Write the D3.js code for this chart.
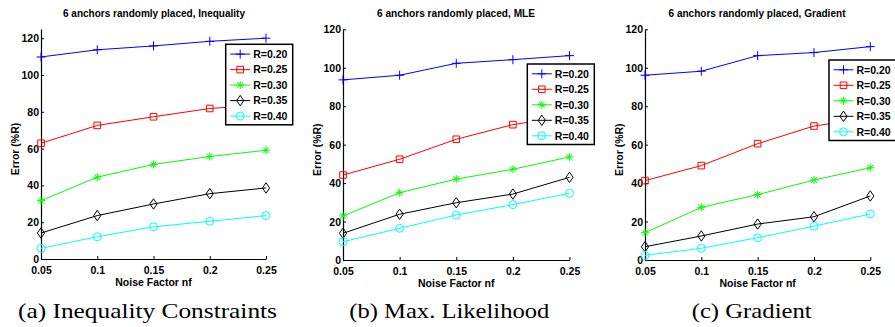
<!DOCTYPE html>
<html>
<head>
<meta charset="utf-8">
<script src="https://cdn.jsdelivr.net/npm/d3@7"></script>
<style>
  html, body { margin: 0; padding: 0; background: #fff; }
  svg { display: block; }
  text { font-family: "Liberation Sans", Arial, sans-serif; font-weight: bold; }
  .caption { font-family: "Liberation Serif", "DejaVu Serif", serif; font-weight: normal; }
</style>
</head>
<body>
<svg id="chart" width="895" height="327"></svg>
<script>
// data
const noiseFactors = [0.05, 0.1, 0.15, 0.2, 0.25];
const xTickLabels = ['0.05', '0.1', '0.15', '0.2', '0.25'];
const yTicks = [0, 20, 40, 60, 80, 100, 120];
const seriesNames = ['R=0.20', 'R=0.25', 'R=0.30', 'R=0.35', 'R=0.40'];

const inequalityErr = [
    [109.8, 113.7, 115.8, 118.3, 120.0],
    [62.9, 72.6, 77.3, 81.8, 84.0],
    [31.7, 44.5, 51.4, 55.7, 59.1],
    [14.1, 23.6, 29.9, 35.5, 38.6],
    [5.8, 12.1, 17.5, 20.5, 23.6]
];
const mleErr = [
    [93.7, 96.1, 102.3, 104.2, 106.3],
    [44.2, 52.4, 62.8, 70.4, 75.0],
    [22.9, 35.0, 42.1, 47.2, 53.6],
    [13.9, 23.8, 29.8, 34.3, 43.0],
    [9.5, 16.5, 23.4, 28.8, 34.7]
];
const gradientErr = [
    [96.1, 98.2, 106.3, 107.9, 111.0],
    [41.3, 49.1, 60.5, 69.7, 74.0],
    [14.2, 27.4, 34.0, 41.6, 48.0],
    [6.9, 12.5, 18.7, 22.5, 33.3],
    [2.4, 6.1, 11.6, 17.6, 23.9]
];

const titles = [
    '6 anchors randomly placed, Inequality',
    '6 anchors randomly placed, MLE',
    '6 anchors randomly placed, Gradient'
];
const captions = ['(a) Inequality Constraints', '(b) Max. Likelihood', '(c) Gradient'];

// styles
const colors = ['#0000ff', '#ff0000', '#00ff00', '#000000', '#00ffff'];
const markers = ['plus', 'square', 'star', 'diamond', 'circle'];

const markerPath = (type) => {
    switch (type) {
        case 'plus': return 'M-4.5,0H4.5M0,-4.5V4.5';
        case 'square': return 'M-3.3,-3.3H3.3V3.3H-3.3Z';
        case 'star': return 'M-4,0H4M0,-4V4M-2.9,-2.9L2.9,2.9M-2.9,2.9L2.9,-2.9';
        case 'diamond': return 'M0,-5.2L3.6,0L0,5.2L-3.6,0Z';
        case 'circle': return d3.arc()({ innerRadius: 0, outerRadius: 4, startAngle: 0, endAngle: 2 * Math.PI });
    }
};

const panels = [
    { data: inequalityErr, left: 41, right: 266, top: 29, bottom: 259, yMax: 125,
      legend: { x: 225.7, y: 44.3 }, caption: { cx: 147.5, w: 259 }, title: { cx: 154, w: 182 } },
    { data: mleErr, left: 343, right: 569.5, top: 29.3, bottom: 260, yMax: 120,
      legend: { x: 527.3, y: 64 }, caption: { cx: 449.3, w: 200 }, title: { cx: 456, w: 158 } },
    { data: gradientErr, left: 645, right: 870.3, top: 29.3, bottom: 260, yMax: 120,
      legend: { x: 829, y: 60 }, caption: { cx: 751.7, w: 120 }, title: { cx: 757, w: 177 } }
];

const svg = d3.select('#chart');
const fontSize = 10.5;

panels.forEach((p, pi) => {
    const x = d3.scaleLinear().domain([0.05, 0.25]).range([p.left, p.right]);
    const y = d3.scaleLinear().domain([0, p.yMax]).range([p.bottom, p.top]);
    const g = svg.append('g');

    // axes (MATLAB style, ticks inward, box off)
    const xAxis = d3.axisBottom(x).tickValues(noiseFactors)
        .tickFormat((d, i) => xTickLabels[i]).tickSizeInner(-3).tickSizeOuter(0);
    const yAxis = d3.axisLeft(y).tickValues(yTicks).tickSizeInner(-3).tickSizeOuter(0);

    const gx = g.append('g').attr('transform', 'translate(0,' + p.bottom + ')').call(xAxis);
    gx.select('.domain').attr('stroke', '#000').attr('stroke-width', 1.2);
    gx.selectAll('.tick line').attr('stroke', '#000');
    gx.selectAll('.tick text').attr('y', 14.5).attr('dy', 0)
        .attr('font-size', fontSize).attr('font-family', null).attr('fill', '#000');

    const gy = g.append('g').attr('transform', 'translate(' + p.left + ',0)').call(yAxis);
    gy.select('.domain').attr('stroke', '#000').attr('stroke-width', 1.2);
    gy.selectAll('.tick line').attr('stroke', '#000');
    gy.selectAll('.tick text').attr('x', -2).attr('dy', '0.33em')
        .attr('font-size', fontSize).attr('font-family', null).attr('fill', '#000');

    // title & labels
    g.append('text')
        .attr('x', p.title.cx)
        .attr('y', 17)
        .attr('text-anchor', 'middle')
        .attr('font-size', fontSize)
        .attr('textLength', p.title.w)
        .attr('lengthAdjust', 'spacingAndGlyphs')
        .text(titles[pi]);

    g.append('text')
        .attr('x', (p.left + p.right) / 2)
        .attr('y', p.bottom + 27)
        .attr('text-anchor', 'middle')
        .attr('font-size', fontSize)
        .text('Noise Factor nf');

    g.append('text')
        .attr('transform', 'translate(' + (p.left - 22.5) + ',' + ((p.top + p.bottom) / 2 + 5) + ') rotate(-90)')
        .attr('text-anchor', 'middle')
        .attr('font-size', fontSize)
        .text('Error (%R)');

    // series
    const line = d3.line().x((d, i) => x(noiseFactors[i])).y(d => y(d));
    p.data.forEach((vals, si) => {
        g.append('path')
            .attr('d', line(vals))
            .attr('fill', 'none')
            .attr('stroke', colors[si])
            .attr('stroke-width', 1);
        g.selectAll(null)
            .data(vals)
            .enter()
            .append('path')
            .attr('transform', (d, i) => 'translate(' + x(noiseFactors[i]) + ',' + y(d) + ')')
            .attr('d', markerPath(markers[si]))
            .attr('fill', 'none')
            .attr('stroke', colors[si])
            .attr('stroke-width', 1);
    });

    // legend
    const lg = g.append('g').attr('transform', 'translate(' + p.legend.x + ',' + p.legend.y + ')');
    lg.append('rect')
        .attr('width', 67)
        .attr('height', 80.5)
        .attr('fill', '#fff')
        .attr('stroke', '#000')
        .attr('stroke-width', 1.5);
    seriesNames.forEach((name, si) => {
        const ry = 9.8 + si * 15.5;
        lg.append('line')
            .attr('x1', 4.5).attr('x2', 24.5)
            .attr('y1', ry).attr('y2', ry)
            .attr('stroke', colors[si]);
        lg.append('path')
            .attr('transform', 'translate(14.5,' + ry + ')')
            .attr('d', markerPath(markers[si]))
            .attr('fill', 'none')
            .attr('stroke', colors[si]);
        lg.append('text')
            .attr('x', 27.5)
            .attr('y', ry)
            .attr('dy', '0.36em')
            .attr('font-size', fontSize)
            .text(name);
    });

    // caption
    svg.append('text')
        .attr('class', 'caption')
        .attr('x', p.caption.cx)
        .attr('y', 317.5)
        .attr('text-anchor', 'middle')
        .attr('font-size', 21)
        .attr('textLength', p.caption.w)
        .attr('lengthAdjust', 'spacingAndGlyphs')
        .text(captions[pi]);
});
</script>
</body>
</html>
